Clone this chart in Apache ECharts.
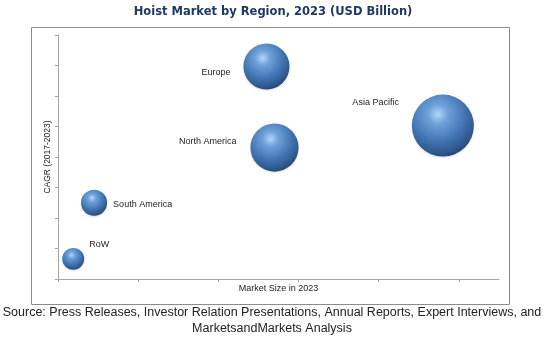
<!DOCTYPE html>
<html>
<head>
<meta charset="utf-8">
<script src="https://cdn.jsdelivr.net/npm/echarts@6/dist/echarts.min.js"></script>
<style>html,body{margin:0;padding:0;background:#fff}#c{width:545px;height:340px}</style>
</head>
<body>
<div id="c"></div>
<script>
const regions = ['Europe', 'North America', 'Asia Pacific', 'South America', 'RoW'];
const marketSize = [2.6, 2.7, 4.8, 0.45, 0.19];
const cagr = [6.97, 4.31, 5.03, 2.5, 0.66];
const bubbleValue = [5.3, 5.8, 9.6, 1.7, 1.2];
const xTicks = [0, 1, 2, 3, 4, 5];

const labelPlacement = {
  'Europe': {position: 'left', distance: 13, offset: [0, 6]},
  'North America': {position: 'left', distance: 14, offset: [0, -6]},
  'Asia Pacific': {position: 'left', distance: 13, offset: [0, -23]},
  'South America': {position: 'right', distance: 6, offset: [0, 2]},
  'RoW': {position: 'right', distance: 5, offset: [0, -14]}
};

const sphere = {
  type: 'radial', x: 0.42, y: 0.32, r: 0.72,
  colorStops: [
    {offset: 0, color: '#b3d6f7'},
    {offset: 0.22, color: '#6fa2da'},
    {offset: 0.6, color: '#4375b3'},
    {offset: 0.88, color: '#2d5689'},
    {offset: 1, color: '#203f66'}
  ]
};

const data = regions.map((r, i) => ({
  name: r,
  value: [marketSize[i], cagr[i], bubbleValue[i]],
  label: Object.assign({show: true, formatter: '{b}'}, labelPlacement[r])
}));

const chart = echarts.init(document.getElementById('c'), null, {renderer: 'canvas'});
chart.setOption({
  animation: false,
  title: {
    text: 'Hoist Market by Region, 2023 (USD Billion)',
    left: 268, top: 1, textAlign: 'center',
    textStyle: {fontFamily: 'DejaVu Sans', fontWeight: 'bold', fontSize: 11.5, color: '#1f3864'}
  },
  grid: {left: 58, right: 46, top: 35, bottom: 61},
  xAxis: {
    type: 'value', min: 0, max: 5.5,
    name: 'Market Size in 2023', nameLocation: 'middle', nameGap: 5,
    nameTextStyle: {fontFamily: 'Liberation Sans', fontSize: 9, color: '#222', verticalAlign: 'top'},
    axisLine: {show: true, lineStyle: {color: '#a6a6a6', width: 1}},
    axisTick: {show: true, inside: false, length: 3, customValues: xTicks, lineStyle: {color: '#a6a6a6'}},
    axisLabel: {show: false},
    splitLine: {show: false}
  },
  yAxis: {
    type: 'value', min: 0, max: 8, interval: 1,
    name: 'CAGR (2017-2023)', nameLocation: 'middle', nameGap: 6,
    nameTextStyle: {fontFamily: 'Liberation Sans', fontSize: 8.5, color: '#222', verticalAlign: 'bottom'},
    axisLine: {show: true, lineStyle: {color: '#a6a6a6', width: 1}},
    axisTick: {show: true, length: 3, lineStyle: {color: '#a6a6a6'}},
    axisLabel: {show: false},
    splitLine: {show: false}
  },
  graphic: [
    {type: 'rect', shape: {x: 31.5, y: 27.5, width: 478, height: 277}, style: {fill: null, stroke: '#8c8c8c', lineWidth: 1}, z: -1},
    {type: 'text', x: 272, y: 305, style: {text: 'Source: Press Releases, Investor Relation Presentations, Annual Reports, Expert Interviews, and\nMarketsandMarkets Analysis', font: '12.5px "Liberation Sans"', fill: '#222', align: 'center', lineHeight: 16}}
  ],
  series: [{
    type: 'scatter',
    data: data,
    symbolSize: v => 20 * Math.sqrt(v[2]),
    itemStyle: {color: sphere, opacity: 1, shadowBlur: 2, shadowColor: 'rgba(0,0,0,0.15)', shadowOffsetY: 1},
    label: {fontFamily: 'Liberation Sans', fontSize: 9, color: '#222'},
    emphasis: {disabled: true}
  }]
});
</script>
</body>
</html>
